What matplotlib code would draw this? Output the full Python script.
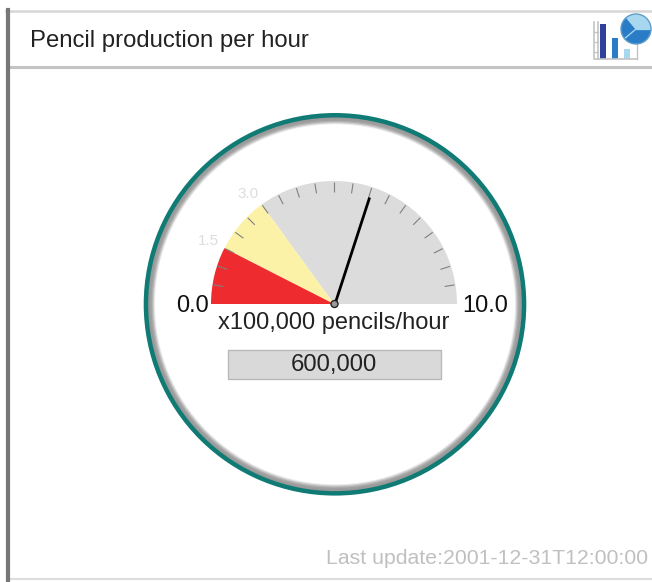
import numpy as np
import matplotlib
matplotlib.use("Agg")
import matplotlib.pyplot as plt
from matplotlib.patches import Wedge, Circle, Rectangle

plt.rcParams['font.family'] = ['Liberation Sans', 'DejaVu Sans']

# Gauge data
title = 'Pencil production per hour'
unit_label = 'x100,000 pencils/hour'
value_label = '600,000'
update_label = 'Last update:2001-12-31T12:00:00'
scale_min = 0.0
scale_max = 10.0
red_limit = 1.5
yellow_limit = 3.0
needle_value = 6.0
tick_step = 0.5

# Icon data
icon_bar_heights = [35, 21, 10]
icon_bar_colors = ['#2f3f9e', '#2a7cc7', '#a8d8f0']
icon_pie_sizes = [130, 140, 90]
icon_pie_colors = ['#a8d8f0', '#2a7cc7', '#2a7cc7']

W, H = 652, 582
fig = plt.figure(figsize=(W / 100, H / 100), dpi=100, facecolor='white')
ax = fig.add_axes([0, 0, 1, 1])
ax.set_xlim(0, W)
ax.set_ylim(0, H)
ax.axis('off')


def py(y):
    # picture y (from the top) to axes y
    return H - y


def val_angle(v):
    return 180 - 180 * (v - scale_min) / (scale_max - scale_min)


cx, cy = 334, py(304)
R = 123

# Panel frame
ax.plot([6, 652], [py(11), py(11)], color='#d6d6d6', lw=1.8)
ax.plot([8, 652], [py(66.5), py(66.5)], color='#c4c4c4', lw=2.2)
ax.plot([8, 652], [py(578.5), py(578.5)], color='#dedede', lw=1.6)
ax.plot([8, 8], [py(10), py(582)], color='#777777', lw=3)
ax.text(30, py(40.5), title, fontsize=17.2, color='#222222', va='center', ha='left')

# Outer ring, grey side fades into the white face
ring_x, ring_y = 335, py(304.3)
ax.add_patch(Circle((ring_x, ring_y), 191.3, fc='#0f7b74', ec='none'))
for r, c in zip([186.8, 185, 183.5, 182.3, 181],
                ['#9a9a9a', '#a0a0a0', '#b0b0b0', '#cccccc', '#ececec']):
    ax.add_patch(Circle((ring_x, ring_y), r, fc=c, ec='none'))
ax.add_patch(Circle((ring_x, ring_y), 180, fc='white', ec='none'))

# Gauge sectors
ax.add_patch(Wedge((cx, cy), R, val_angle(scale_max), val_angle(yellow_limit), fc='#dcdcdc', ec='none'))
ax.add_patch(Wedge((cx, cy), R, val_angle(yellow_limit), val_angle(red_limit), fc='#fbf2a8', ec='none'))
ax.add_patch(Wedge((cx, cy), R, val_angle(red_limit), val_angle(scale_min), fc='#ee2b2f', ec='none'))

# Ticks
for v in np.arange(scale_min + tick_step, scale_max, tick_step):
    a = np.radians(val_angle(v))
    ax.plot([cx + 112 * np.cos(a), cx + 122 * np.cos(a)],
            [cy + 112 * np.sin(a), cy + 122 * np.sin(a)],
            color='#808080', lw=0.8, solid_capstyle='butt')

# Needle
a = np.radians(val_angle(needle_value))
ax.plot([cx + 1, cx + 1 + 112 * np.cos(a)], [cy, cy + 112 * np.sin(a)], color='black', lw=2, solid_capstyle='butt')
ax.add_patch(Circle((cx + 0.5, cy), 3.5, fc='#999999', ec='#222222', lw=1, zorder=5))

# Scale labels
ax.text(208.5, py(306), f'{scale_min:.1f}', fontsize=17, color='#111111', ha='right', va='center')
ax.text(462, py(306), f'{scale_max:.1f}', fontsize=17, color='#111111', ha='left', va='center')
ax.text(219, py(241), f'{red_limit:.1f}', fontsize=11, color='#dddddd', ha='right', va='center')
ax.text(259, py(194), f'{yellow_limit:.1f}', fontsize=11, color='#dddddd', ha='right', va='center')
ax.text(334, py(323.5), unit_label, fontsize=17, color='#222222', ha='center', va='center')

# Value box
ax.add_patch(Rectangle((228, py(379)), 213, 29, fc='#d9d9d9', ec='#b8b8b8', lw=1))
ax.text(334, py(365.5), value_label, fontsize=17.2, color='#222222', ha='center', va='center')

ax.text(648, py(558), update_label, fontsize=15.3, color='#c0c0c0', ha='right', va='center')

# Icon: axis frame, bars, pie
ax.plot([594, 594, 637], [py(22), py(59), py(59)], color='#c4c4c4', lw=1.2)
ax.plot([598, 598], [py(22), py(59)], color='#c4c4c4', lw=1.2)
ax.plot([637, 637], [py(40), py(59)], color='#c4c4c4', lw=1)
for y in [32, 42, 52]:
    ax.plot([594, 598], [py(y), py(y)], color='#c4c4c4', lw=1)
for x, h, c in zip([600, 612, 624], icon_bar_heights, icon_bar_colors):
    ax.add_patch(Rectangle((x, py(59)), 5.5, h, fc=c, ec='none'))
start = 130
for s, c in zip(icon_pie_sizes, icon_pie_colors):
    end = start - s
    ax.add_patch(Wedge((636, py(29)), 15, end, start, fc=c, ec='none', zorder=6))
    ang = np.radians(end)
    ax.plot([636, 636 + 15 * np.cos(ang)], [py(29), py(29) + 15 * np.sin(ang)],
            color='#a8d8f0', lw=0.9, zorder=7)
    start = end
ax.add_patch(Circle((636, py(29)), 15, fc='none', ec='#5f9cc9', lw=1, zorder=7))

fig.savefig('out.png', dpi=100)
